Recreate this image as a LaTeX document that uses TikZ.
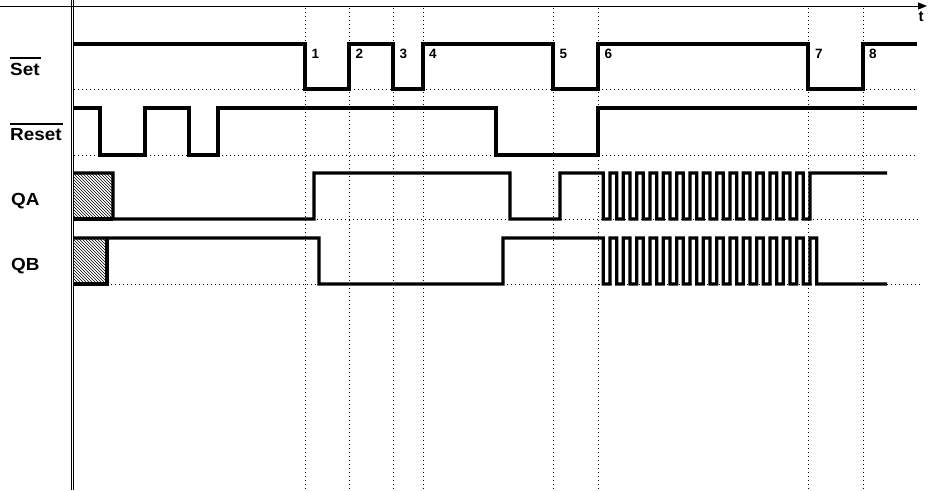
\documentclass[tikz,border=0pt]{standalone}
\usepackage{fontspec}
\setmainfont{Liberation Sans}
\usetikzlibrary{arrows.meta,patterns}
\begin{document}
\begin{tikzpicture}[x=1pt,y=-1pt,
  sig/.style={line width=3.2pt,line join=miter},
  gridline/.style={line width=0.9pt,dash pattern=on 0.9pt off 3.1pt},
  axis/.style={line width=1pt},
  lbl/.style={font=\fontsize{17.5}{17.5}\selectfont\bfseries,inner sep=0pt,anchor=base west,xscale=1.08},
  num/.style={font=\fontsize{13.5}{13.5}\selectfont\bfseries,inner sep=0pt,anchor=base west},
  bar/.style={line width=2.2pt},
  hatch/.style={pattern=north west lines}]
\useasboundingbox (0,0) rectangle (929,490);
% axes
\coordinate (t0) at (0,6);
\coordinate (t1) at (927,6);
\draw[axis,-{Triangle[length=9pt,width=7pt]}] (t0) -- (t1);
\node[font=\fontsize{15}{15}\selectfont\bfseries,inner sep=0pt,anchor=base] (tl) at (921,21.5) {t};
\coordinate (v1a) at (71,0); \coordinate (v1b) at (71,490);
\coordinate (v2a) at (73.2,0); \coordinate (v2b) at (73.2,490);
\draw[axis] (v1a) -- (v1b);
\draw[axis] (v2a) -- (v2b);
% dotted vertical grid lines
\foreach \x in {305,349,393,423,553,598,808,863}{
  \draw[gridline] (\x,8) -- (\x,490);
}
% dotted baselines
\draw[gridline] (74,89) -- (917,89);
\draw[gridline] (74,155) -- (917,155);
\draw[gridline] (113,219) -- (920,219);
\draw[gridline] (107,284) -- (920,284);
% hatched unknown regions
\fill[hatch] (73,173) rectangle (113,219);
\fill[hatch] (73,238) rectangle (107,284);
% labels
\node[lbl] (setl) at (10,75) {Set};
\draw[bar] ([yshift=4.5pt]setl.north west) -- ([yshift=4.5pt,xshift=1pt]setl.north east);
\node[lbl] (resetl) at (10,140.7) {Reset};
\draw[bar] ([yshift=4.5pt]resetl.north west) -- ([yshift=4.5pt,xshift=1pt]resetl.north east);
\node[lbl] (qal) at (11,205.5) {QA};
\node[lbl] (qbl) at (11,270) {QB};
% event numbers
\node[num] (n1) at (311.5,58.5) {1};
\node[num] (n2) at (355.5,58.5) {2};
\node[num] (n3) at (399.5,58.5) {3};
\node[num] (n4) at (429,58.5) {4};
\node[num] (n5) at (559.5,58.5) {5};
\node[num] (n6) at (604.5,58.5) {6};
\node[num] (n7) at (815,58.5) {7};
\node[num] (n8) at (869,58.5) {8};
% Set
\draw[sig] (74,44) -- (305,44) -- (305,89) -- (349,89) -- (349,44) -- (393,44) -- (393,89)
  -- (423,89) -- (423,44) -- (553,44) -- (553,89) -- (598,89) -- (598,44) -- (808,44)
  -- (808,89) -- (863,89) -- (863,44) -- (917,44);
% Reset
\draw[sig] (74,108) -- (100,108) -- (100,155) -- (145,155) -- (145,108) -- (189,108)
  -- (189,155) -- (218,155) -- (218,108) -- (496,108) -- (496,155) -- (598,155)
  -- (598,108) -- (917,108);
% QA
\draw[sig] (74,219) -- (113,219);
\draw[sig] (74,173) -- (113,173) -- (113,219) -- (314,219) -- (314,173) -- (510,173)
  -- (510,219) -- (560,219) -- (560,173) -- (603.33,173)
  foreach \k in {0,...,14}{
    -- ({603.33+13.333*\k},219) -- ({610+13.333*\k},219)
    -- ({610+13.333*\k},173) -- ({616.67+13.333*\k},173)}
  -- (803.33,219) -- (810,219) -- (810,173) -- (887,173);
% QB
\draw[sig] (107,238) -- (107,284) -- (74,284);
\draw[sig] (74,238) -- (319,238) -- (319,284) -- (503,284) -- (503,238) -- (603.33,238)
  foreach \k in {0,...,15}{
    -- ({603.33+13.333*\k},284) -- ({610+13.333*\k},284)
    -- ({610+13.333*\k},238) -- ({616.67+13.333*\k},238)}
  -- (816.67,284) -- (887,284);
\end{tikzpicture}
\end{document}
